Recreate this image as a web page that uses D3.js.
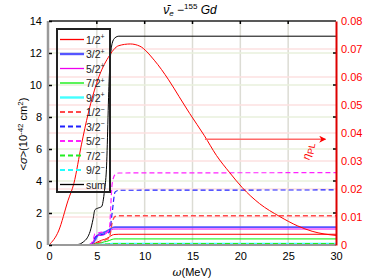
<!DOCTYPE html>
<html>
<head>
<meta charset="utf-8">
<script src="https://cdn.jsdelivr.net/npm/d3@7"></script>
<style>
  body { margin: 0; background: #fff; }
  text { font-family: "Liberation Sans", Arial, sans-serif; }
</style>
</head>
<body>
<script>
// energies where the cross sections were read (MeV)
var omega = [0, 3, 3.6, 4.0, 4.3, 4.6, 4.8, 5.1, 5.5, 5.8, 6.0, 6.3, 6.6, 6.9, 7.3, 30];

// <sigma> per final spin, 10^-42 cm^2
var s1p = [0, 0, 0, 0, 0.01, 0.05, 0.1, 0.2, 0.3, 0.35, 0.4, 0.5, 0.62, 0.66, 0.67, 0.67];
var s3p = [0, 0, 0, 0, 0.02, 0.1, 0.3, 0.6, 0.75, 0.8, 0.85, 0.95, 1.08, 1.12, 1.12, 1.12];
var s5p = [0, 0, 0, 0.01, 0.02, 0.15, 0.5, 0.6, 0.6, 0.65, 0.75, 0.85, 0.97, 1.0, 1.0, 1.0];
var s7p = [0, 0, 0, 0, 0, 0.02, 0.05, 0.1, 0.15, 0.2, 0.22, 0.28, 0.35, 0.38, 0.38, 0.38];
var s9p = [0, 0, 0, 0, 0, 0, 0.01, 0.02, 0.03, 0.04, 0.05, 0.06, 0.08, 0.09, 0.09, 0.09];
var s1m = [0, 0, 0, 0, 0.01, 0.05, 0.1, 0.15, 0.2, 0.3, 0.35, 0.45, 1.4, 1.78, 1.83, 1.83];
var s3m = [0, 0, 0, 0.01, 0.03, 0.2, 0.45, 0.6, 0.65, 0.7, 0.72, 0.8, 2.0, 3.3, 3.42, 3.44];
var s5m = [0, 0, 0, 0.02, 0.05, 0.3, 0.7, 0.75, 0.8, 0.7, 0.75, 1.0, 3.8, 4.4, 4.5, 4.52];
var s7m = [0, 0, 0, 0, 0, 0.01, 0.02, 0.03, 0.04, 0.05, 0.05, 0.06, 0.07, 0.08, 0.08, 0.08];
var s9m = [0, 0, 0, 0, 0, 0, 0, 0.01, 0.01, 0.01, 0.01, 0.01, 0.02, 0.02, 0.02, 0.02];
var sSum = [0, 0.03, 0.2, 0.45, 0.85, 1.6, 2.2, 2.3, 2.4, 3.4, 4.7, 10.5, 12.6, 12.95, 13.05, 13.05];

// eta_PL spectrum (right axis)
var etaOmega = [0, 1, 2, 2.6, 3.4, 4.1, 5.1, 6.2, 7.3, 8.5, 9.5, 11, 12.5, 13.6, 14.7, 16.25, 17.5, 18.85, 20.2, 22, 24.1, 26, 27.5, 30];
var etaVal = [0, 0.005, 0.016, 0.022, 0.036, 0.047, 0.059, 0.067, 0.0712, 0.0718, 0.071, 0.066, 0.059, 0.053, 0.047, 0.039, 0.032, 0.026, 0.0205, 0.0148, 0.0102, 0.0068, 0.0049, 0.0034];

var labels = ["1/2", "3/2", "5/2", "7/2", "9/2", "1/2", "3/2", "5/2", "7/2", "9/2", "sum"];
var parity = ["+", "+", "+", "+", "+", "-", "-", "-", "-", "-", ""];

var xTicks = [0, 5, 10, 15, 20, 25, 30];
var yTicks = [0, 2, 4, 6, 8, 10, 12, 14];
var y2Ticks = [0, 0.01, 0.02, 0.03, 0.04, 0.05, 0.06, 0.07, 0.08];

var series = [
  { v: s1p, color: "#ff0000", w: 1, dash: null },
  { v: s3p, color: "#5555ff", w: 1.8, dash: null },
  { v: s5p, color: "#ee00ee", w: 1, dash: null },
  { v: s7p, color: "#00ee00", w: 1, dash: null },
  { v: s9p, color: "#44ffff", w: 1.8, dash: null },
  { v: s1m, color: "#ff4a4a", w: 1.4, dash: "5,3" },
  { v: s3m, color: "#2020ff", w: 1.2, dash: "5,3" },
  { v: s5m, color: "#ff22ff", w: 1.2, dash: "5,3" },
  { v: s7m, color: "#22ee22", w: 1.4, dash: "5,3" },
  { v: s9m, color: "#22ffff", w: 1.2, dash: "5,3" },
  { v: sSum, color: "#000000", w: 1, dash: null }
];

var W = 374, H = 280;
var margin = { top: 21, right: 38, bottom: 35, left: 49 };
var width = W - margin.left - margin.right;
var height = H - margin.top - margin.bottom;

var svg = d3.select("body").append("svg")
  .attr("width", W).attr("height", H);
var g = svg.append("g")
  .attr("transform", "translate(" + margin.left + "," + margin.top + ")");

var x = d3.scaleLinear().domain([0, 30]).range([0, width]);
var y = d3.scaleLinear().domain([0, 14]).range([height, 0]);
var y2 = d3.scaleLinear().domain([0, 0.08]).range([height, 0]);

// grids
g.selectAll(".gx").data(xTicks.slice(1, -1)).enter().append("line")
  .attr("x1", d => x(d)).attr("x2", d => x(d))
  .attr("y1", 0).attr("y2", height)
  .attr("stroke", "#dcdcd4").attr("stroke-width", 1.5);
g.selectAll(".gy").data(yTicks.slice(1, -1)).enter().append("line")
  .attr("x1", 0).attr("x2", width)
  .attr("y1", d => y(d)).attr("y2", d => y(d))
  .attr("stroke", "#e8f0dc").attr("stroke-width", 1.5);
g.selectAll(".gy2").data(y2Ticks.slice(1, -1)).enter().append("line")
  .attr("x1", 0).attr("x2", width)
  .attr("y1", d => y2(d)).attr("y2", d => y2(d))
  .attr("stroke", "#fde0e0").attr("stroke-width", 1.5);

// cross section lines
var line = d3.line()
  .x(function (d, i) { return x(omega[i]); })
  .y(function (d) { return y(d); })
  .curve(d3.curveMonotoneX);

series.forEach(function (s) {
  g.append("path")
    .attr("d", line(s.v))
    .attr("fill", "none")
    .attr("stroke", s.color)
    .attr("stroke-width", s.w)
    .attr("stroke-dasharray", s.dash);
});

// eta curve
var etaLine = d3.line()
  .x(function (d, i) { return x(etaOmega[i]); })
  .y(function (d) { return y2(d); })
  .curve(d3.curveMonotoneX);
g.append("path")
  .attr("d", etaLine(etaVal))
  .attr("fill", "none").attr("stroke", "#ff0000").attr("stroke-width", 1);

// frame
g.append("line").attr("x1", 0).attr("x2", width).attr("y1", 0).attr("y2", 0)
  .attr("stroke", "#222").attr("stroke-width", 1.5);
g.append("line").attr("x1", 0).attr("x2", width).attr("y1", height).attr("y2", height)
  .attr("stroke", "#9a9a9a").attr("stroke-width", 2);
g.append("line").attr("x1", -1).attr("x2", -1).attr("y1", 0).attr("y2", height)
  .attr("stroke", "#9a9a9a").attr("stroke-width", 2.5);

// left axis
var yAxis = d3.axisLeft(y).tickValues(yTicks).tickSize(3).tickPadding(4);
var ya = g.append("g").call(yAxis);
ya.select(".domain").remove();
ya.selectAll("line").attr("transform", "translate(3,0)").attr("stroke", "#000").attr("stroke-width", 1.5);
ya.selectAll("text").attr("font-size", 11).attr("fill", "#000");

// mirrored ticks
g.selectAll(".ty").data(yTicks.slice(1, -1)).enter().append("line")
  .attr("x1", width - 3).attr("x2", width).attr("y1", d => y(d)).attr("y2", d => y(d))
  .attr("stroke", "#000").attr("stroke-width", 1.5);
g.selectAll(".tx").data(xTicks.slice(1, -1)).enter().append("line")
  .attr("x1", d => x(d)).attr("x2", d => x(d)).attr("y1", 0).attr("y2", 3)
  .attr("stroke", "#000").attr("stroke-width", 1.5);

// bottom axis
var xAxis = d3.axisBottom(x).tickValues(xTicks).tickSize(0).tickPadding(7);
var xa = g.append("g").attr("transform", "translate(0," + height + ")").call(xAxis);
xa.select(".domain").remove();
xa.selectAll("text").attr("font-size", 11).attr("fill", "#000");

// right axis
var y2Axis = d3.axisRight(y2).tickValues(y2Ticks).tickSize(0).tickPadding(5)
  .tickFormat(function (d) { return d === 0 ? "0" : d3.format(".2f")(d); });
var ra = g.append("g").attr("transform", "translate(" + width + ",0)").call(y2Axis);
ra.select(".domain").attr("stroke", "#dd0000").attr("stroke-width", 2);
ra.selectAll("text").attr("font-size", 11).attr("fill", "#ff0000");

// legend
var lg = g.append("g").attr("transform", "translate(8,8)");
lg.append("rect").attr("width", 53).attr("height", 163)
  .attr("fill", "none").attr("stroke", "#222").attr("stroke-width", 2);
series.forEach(function (s, i) {
  var yy = 10.5 + i * 14.5;
  lg.append("line").attr("x1", 3).attr("x2", 27).attr("y1", yy).attr("y2", yy)
    .attr("stroke", s.color).attr("stroke-width", s.w === 1 ? 1.3 : s.w + 0.6)
    .attr("stroke-dasharray", s.dash);
  var t = lg.append("text").attr("x", 29).attr("y", yy + 4)
    .attr("font-size", 10.5).attr("fill", "#222").text(labels[i]);
  if (parity[i]) {
    t.append("tspan").attr("dy", -4.5).attr("font-size", 7)
      .text(parity[i] === "+" ? "+" : "\u2212");
  }
});

// arrow and eta label
svg.append("defs").append("marker")
  .attr("id", "ah").attr("viewBox", "0 0 10 10").attr("refX", 9).attr("refY", 5)
  .attr("markerWidth", 9).attr("markerHeight", 7).attr("markerUnits", "userSpaceOnUse")
  .attr("orient", "auto")
  .append("path").attr("d", "M0,0 L10,5 L0,10 L3,5 Z").attr("fill", "#ff0000");
g.append("line")
  .attr("x1", x(16.3)).attr("x2", x(28.9))
  .attr("y1", y2(0.0378)).attr("y2", y2(0.0378))
  .attr("stroke", "#ff6a6a").attr("stroke-width", 1.5)
  .attr("marker-end", "url(#ah)");
var et = g.append("text")
  .attr("transform", "translate(" + (x(26.6) + 6) + "," + (y2(0.0378) + 21) + ") rotate(-80)")
  .attr("font-size", 11).attr("fill", "#ff0000");
et.append("tspan").attr("font-style", "italic").text("\u03b7");
et.append("tspan").attr("dy", 3).attr("font-size", 9).text("PL");

// title
var tt = svg.append("text").attr("x", 190).attr("y", 14)
  .attr("text-anchor", "middle").attr("font-size", 12)
  .attr("font-family", "'DejaVu Serif', 'Liberation Serif', serif");
tt.append("tspan").attr("font-style", "italic").text("\u03bd\u0304");
tt.append("tspan").attr("font-style", "italic").attr("font-size", 8).attr("dy", 2).text("e");
tt.append("tspan").attr("dy", -2).text(" \u2212");
tt.append("tspan").attr("font-size", 8).attr("dy", -5).text("155");
tt.append("tspan").attr("dy", 5).attr("font-style", "italic").text(" Gd");

// axis titles
var xl = svg.append("text").attr("x", 192).attr("y", 276)
  .attr("text-anchor", "middle").attr("font-size", 11).attr("fill", "#000");
xl.append("tspan").attr("font-style", "italic").attr("font-family", "'DejaVu Serif', serif").text("\u03c9");
xl.append("tspan").text("(MeV)");

var yl = svg.append("text")
  .attr("transform", "translate(27,134) rotate(-90)")
  .attr("text-anchor", "middle").attr("font-size", 11).attr("fill", "#000");
yl.append("tspan").text("<");
yl.append("tspan").attr("font-style", "italic").text("\u03c3");
yl.append("tspan").text(">(10");
yl.append("tspan").attr("dy", -4).attr("font-size", 8).text("-42");
yl.append("tspan").attr("dy", 4).text(" cm");
yl.append("tspan").attr("dy", -4).attr("font-size", 8).text("2");
yl.append("tspan").attr("dy", 4).text(")");
</script>
</body>
</html>
